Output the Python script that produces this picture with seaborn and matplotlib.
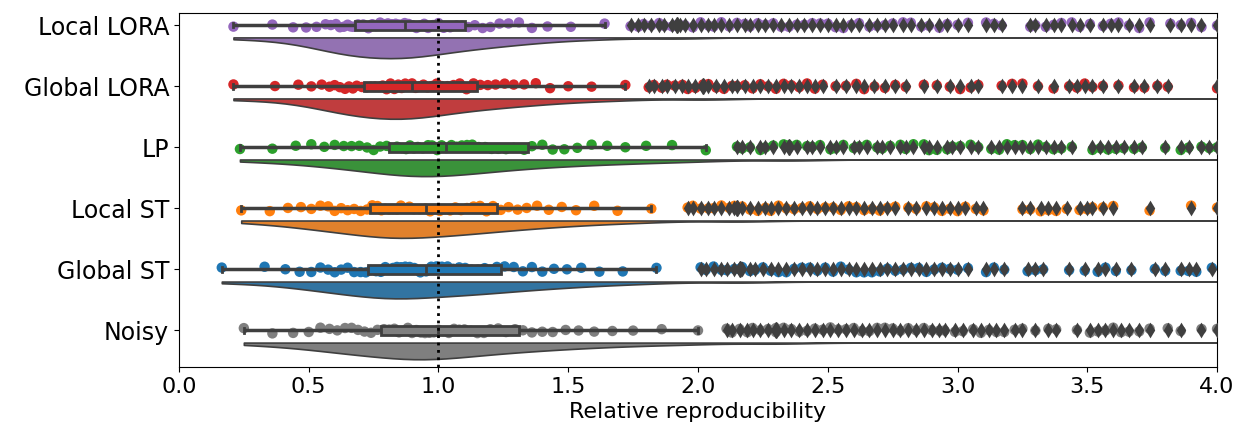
import numpy as np
import pandas as pd
import matplotlib
matplotlib.use('Agg')
import matplotlib.pyplot as plt
import seaborn as sns

models = ['Local LORA', 'Global LORA', 'LP', 'Local ST', 'Global ST', 'Noisy']
colors = ['#9467bd', '#d62728', '#2ca02c', '#ff7f0e', '#1f77b4', '#7f7f7f']
x_ticks = [0.0, 0.5, 1.0, 1.5, 2.0, 2.5, 3.0, 3.5, 4.0]

# quantiles at 0, 2, 4, ..., 100 % (estimated from box, whiskers and cloud)
q_local_lora = [0.21, 0.36, 0.44, 0.49, 0.53, 0.565, 0.585, 0.605, 0.62, 0.635,
                0.65, 0.66, 0.67, 0.69, 0.71, 0.73, 0.745, 0.76, 0.775, 0.79,
                0.805, 0.82, 0.835, 0.85, 0.86, 0.87, 0.885, 0.90, 0.915, 0.93,
                0.945, 0.96, 0.98, 1.00, 1.02, 1.045, 1.07, 1.09, 1.115, 1.14,
                1.17, 1.20, 1.235, 1.27, 1.31, 1.36, 1.42, 1.51, 1.64, 1.92, 4.2]
q_global_lora = [0.21, 0.37, 0.46, 0.51, 0.55, 0.58, 0.60, 0.62, 0.64, 0.655,
                 0.67, 0.685, 0.705, 0.723, 0.74, 0.755, 0.77, 0.785, 0.80, 0.815,
                 0.83, 0.845, 0.858, 0.872, 0.885, 0.898, 0.912, 0.927, 0.942, 0.958,
                 0.975, 0.993, 1.012, 1.035, 1.058, 1.082, 1.108, 1.135, 1.161, 1.19,
                 1.22, 1.255, 1.29, 1.33, 1.375, 1.43, 1.50, 1.59, 1.72, 2.02, 4.2]
q_lp = [0.235, 0.36, 0.45, 0.51, 0.56, 0.60, 0.635, 0.665, 0.695, 0.725,
        0.75, 0.775, 0.80, 0.82, 0.84, 0.86, 0.875, 0.89, 0.905, 0.92,
        0.94, 0.96, 0.975, 0.995, 1.012, 1.03, 1.05, 1.07, 1.09, 1.11,
        1.13, 1.155, 1.18, 1.205, 1.23, 1.26, 1.29, 1.33, 1.36, 1.40,
        1.44, 1.485, 1.535, 1.59, 1.65, 1.72, 1.80, 1.90, 2.03, 2.35, 4.3]
q_local_st = [0.24, 0.35, 0.42, 0.47, 0.51, 0.545, 0.575, 0.60, 0.625, 0.65,
              0.675, 0.70, 0.725, 0.745, 0.765, 0.78, 0.795, 0.81, 0.825, 0.84,
              0.855, 0.87, 0.888, 0.905, 0.927, 0.95, 0.968, 0.986, 1.005, 1.025,
              1.045, 1.065, 1.087, 1.11, 1.135, 1.16, 1.185, 1.21, 1.24, 1.27,
              1.305, 1.34, 1.38, 1.425, 1.475, 1.53, 1.60, 1.69, 1.82, 2.15, 4.3]
q_global_st = [0.165, 0.33, 0.41, 0.465, 0.51, 0.545, 0.575, 0.60, 0.625, 0.65,
               0.675, 0.70, 0.72, 0.74, 0.76, 0.778, 0.795, 0.81, 0.825, 0.84,
               0.856, 0.872, 0.889, 0.907, 0.93, 0.952, 0.972, 0.992, 1.013, 1.035,
               1.057, 1.08, 1.103, 1.127, 1.152, 1.178, 1.20, 1.225, 1.255, 1.29,
               1.325, 1.36, 1.40, 1.445, 1.495, 1.55, 1.62, 1.71, 1.84, 2.16, 4.3]
q_noisy = [0.25, 0.36, 0.44, 0.50, 0.545, 0.58, 0.61, 0.64, 0.665, 0.69,
           0.715, 0.74, 0.765, 0.79, 0.81, 0.83, 0.848, 0.865, 0.882, 0.898,
           0.915, 0.932, 0.948, 0.965, 0.982, 1.00, 1.02, 1.04, 1.06, 1.08,
           1.10, 1.125, 1.15, 1.175, 1.20, 1.23, 1.26, 1.295, 1.325, 1.36,
           1.40, 1.44, 1.49, 1.54, 1.60, 1.67, 1.75, 1.86, 2.00, 2.30, 4.3]

# individual outliers (diamonds) read along each row
out_local_lora = [1.74, 1.77, 1.79, 1.82, 1.85, 1.87, 1.90, 1.93, 1.95, 1.98, 2.01, 2.04,
                  2.06, 2.09, 2.12, 2.15, 2.18, 2.20, 2.23, 2.26, 2.29, 2.32, 2.35, 2.38,
                  2.41, 2.44, 2.47, 2.50, 2.53, 2.56, 2.59, 2.62, 2.66, 2.69, 2.72, 2.75,
                  2.79, 2.82, 2.86, 2.89, 2.93, 2.96, 3.00, 3.04, 3.11, 3.14, 3.17, 3.28,
                  3.30, 3.34, 3.37, 3.40, 3.44, 3.47, 3.51, 3.56, 3.59, 3.62, 3.66, 3.70,
                  3.74, 3.82, 3.86, 3.90, 3.94, 4.0]
out_global_lora = [1.81, 1.83, 1.86, 1.88, 1.91, 1.94, 1.96, 1.99, 2.02, 2.04, 2.07, 2.10,
                   2.13, 2.15, 2.18, 2.21, 2.24, 2.27, 2.30, 2.33, 2.36, 2.39, 2.42, 2.45,
                   2.48, 2.53, 2.57, 2.61, 2.64, 2.68, 2.72, 2.76, 2.80, 2.87, 2.92, 2.97,
                   3.01, 3.05, 3.08, 3.17, 3.21, 3.25, 3.31, 3.37, 3.43, 3.46, 3.49, 3.52,
                   3.56, 3.62, 3.68, 3.72, 3.77, 3.81, 4.0]
out_lp = [2.15, 2.17, 2.20, 2.24, 2.26, 2.29, 2.33, 2.35, 2.38, 2.42, 2.44, 2.47,
          2.51, 2.53, 2.56, 2.60, 2.62, 2.65, 2.69, 2.71, 2.74, 2.78, 2.80, 2.83,
          2.87, 2.89, 2.92, 2.96, 2.98, 3.01, 3.05, 3.08, 3.13, 3.16, 3.19, 3.22,
          3.25, 3.28, 3.31, 3.34, 3.37, 3.40, 3.44, 3.52, 3.55, 3.58, 3.61, 3.64,
          3.68, 3.71, 3.80, 3.86, 3.89, 3.94, 3.97, 4.0]
out_local_st = [1.96, 1.98, 2.01, 2.04, 2.06, 2.09, 2.12, 2.14, 2.17, 2.20, 2.23, 2.26,
                2.28, 2.31, 2.34, 2.37, 2.40, 2.43, 2.46, 2.49, 2.52, 2.55, 2.58, 2.61,
                2.64, 2.67, 2.70, 2.73, 2.76, 2.81, 2.84, 2.88, 2.91, 2.94, 2.97, 3.00,
                3.03, 3.07, 3.10, 3.25, 3.28, 3.32, 3.35, 3.38, 3.42, 3.47, 3.50, 3.52,
                3.56, 3.60, 3.74, 3.90, 4.0]
out_global_st = [2.01, 2.03, 2.06, 2.09, 2.11, 2.14, 2.17, 2.20, 2.22, 2.25, 2.28, 2.31,
                 2.34, 2.37, 2.40, 2.43, 2.46, 2.49, 2.52, 2.55, 2.58, 2.61, 2.64, 2.67,
                 2.70, 2.73, 2.76, 2.79, 2.82, 2.85, 2.88, 2.91, 2.94, 2.97, 3.00, 3.04,
                 3.11, 3.14, 3.18, 3.27, 3.30, 3.33, 3.43, 3.49, 3.54, 3.57, 3.61, 3.67,
                 3.76, 3.80, 3.86, 3.89, 3.92, 3.98]
out_noisy = [2.11, 2.13, 2.16, 2.19, 2.21, 2.24, 2.27, 2.30, 2.33, 2.36, 2.39, 2.42,
             2.45, 2.48, 2.51, 2.54, 2.57, 2.60, 2.63, 2.66, 2.69, 2.72, 2.75, 2.78,
             2.81, 2.84, 2.87, 2.90, 2.93, 2.95, 2.99, 3.02, 3.06, 3.09, 3.12, 3.15,
             3.18, 3.22, 3.25, 3.30, 3.35, 3.38, 3.46, 3.51, 3.54, 3.57, 3.60, 3.63,
             3.66, 3.70, 3.74, 3.81, 3.86, 3.94, 4.0]

quants = [q_local_lora, q_global_lora, q_lp, q_local_st, q_global_st, q_noisy]
outs = [out_local_lora, out_global_lora, out_lp, out_local_st, out_global_st, out_noisy]

viol_w = 0.34   # depth of the deepest half violin
viol_gap = 0.2  # gap between rain row and cloud baseline

# rows: top row (Local LORA) gets the highest position
q_rows, o_rows = [], []
for i, (m, q, o) in enumerate(zip(models, quants, outs)):
    pos = len(models) - 1 - i
    q_rows.append(pd.DataFrame({'model': m, 'value': q, 'pos': pos,
                                'vpos': pos - viol_gap - viol_w / 2}))
    o_rows.append(pd.DataFrame({'model': m, 'value': o, 'pos': pos}))
df_q = pd.concat(q_rows, ignore_index=True)
df_o = pd.concat(o_rows, ignore_index=True)
df_all = pd.concat([df_q, df_o], ignore_index=True)
pal = dict(zip(models, colors))
dark = '#3f3f3f'

fig, ax = plt.subplots(figsize=(12.41, 4.29), dpi=100)
fig.subplots_adjust(left=0.1442, right=0.9807, top=0.9697, bottom=0.1445)

# -- half violins (cloud) --
sns.violinplot(data=df_q, x='value', y='vpos', orient='y', native_scale=True,
               split=True, inner=None, cut=0, width=viol_w, bw_adjust=0.45,
               color=colors[0], linecolor=dark, linewidth=1.2, ax=ax)
# collections come out sorted by position (bottom row first)
for coll, c in zip(ax.collections, colors[::-1]):
    coll.set_facecolor(sns.desaturate(c, 0.75))

# -- rain --
sns.stripplot(data=df_all, x='value', y='pos', hue='model', palette=pal, orient='y',
              native_scale=True, jitter=0.05, size=7.5, linewidth=0, legend=False,
              zorder=1, ax=ax)

# -- boxes --
sns.boxplot(data=df_q, x='value', y='pos', hue='model', palette=pal, orient='y',
            native_scale=True, width=0.15, saturation=1, linecolor=dark, linewidth=2,
            whiskerprops=dict(linewidth=2.5),
            flierprops=dict(marker='d', markersize=8, markerfacecolor=dark,
                            markeredgecolor=dark),
            legend=False, zorder=3, ax=ax)

# -- outlier diamonds --
sns.stripplot(data=df_o, x='value', y='pos', orient='y', native_scale=True,
              jitter=False, marker='d', color=dark, size=8, linewidth=0,
              zorder=4, ax=ax)

ax.axvline(1.0, color='black', linestyle=':', linewidth=2, zorder=10)

ax.set_xlim(0, 4.0)
ax.set_ylim(-0.6, 5.2)
ax.set_xticks(x_ticks)
ax.set_xticklabels([f'{t:.1f}' for t in x_ticks])
ax.set_yticks([len(models) - 1 - i for i in range(len(models))])
ax.set_yticklabels(models)
ax.tick_params(axis='x', labelsize=16)
ax.tick_params(axis='y', labelsize=17)
ax.set_xlabel('Relative reproducibility', fontsize=16)
ax.set_ylabel('')

plt.savefig('out.png', dpi=100)
